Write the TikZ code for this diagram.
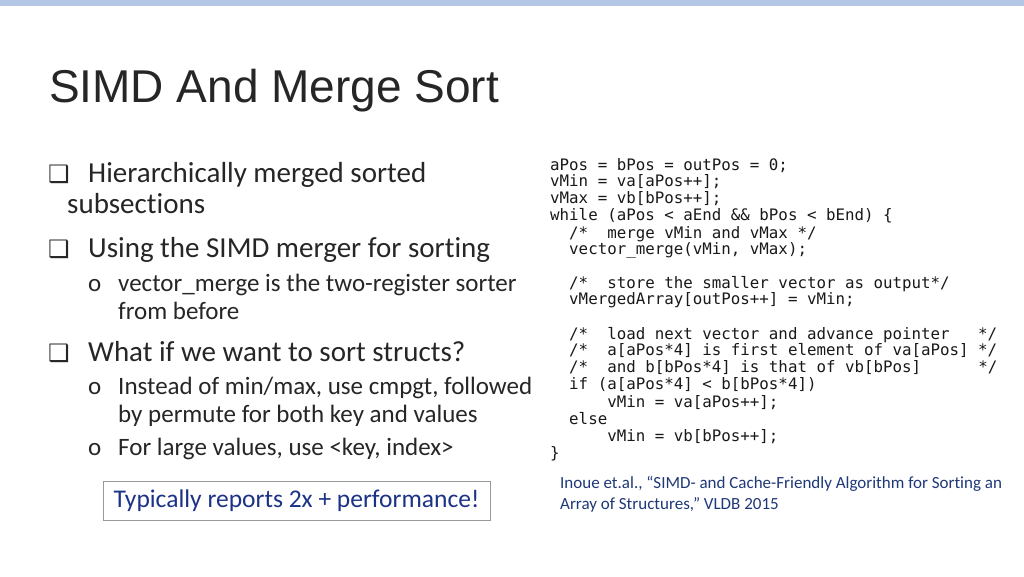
\documentclass[tikz,border=0pt]{standalone}
\usepackage{fontspec}
\setmainfont{Carlito}[Ligatures=NoCommon]
\newfontfamily\titlefont{Liberation Sans}
\newfontfamily\codefont{DejaVu Sans Mono}
\newfontfamily\symfont{DejaVu Sans}
\definecolor{txt}{RGB}{38,38,38}
\definecolor{bar}{RGB}{180,199,231}
\definecolor{cite}{RGB}{31,56,120}
\definecolor{code}{RGB}{25,25,25}
\begin{document}
\begin{tikzpicture}[x=1pt,y=-1pt,
  main/.style={anchor=base west,inner sep=0pt,text=txt,font=\fontsize{29}{33}\selectfont},
  sub/.style={anchor=base west,inner sep=0pt,text=txt,font=\fontsize{25}{29}\selectfont},
  cl/.style={anchor=base west,inner sep=0pt,text=code,font=\codefont\fontsize{15.8}{17}\selectfont}]
\useasboundingbox (0,0) rectangle (1024,576);
\fill[white] (0,0) rectangle (1024,576);
\fill[bar] (0,0) rectangle (1024,6);
\node[anchor=base west,inner sep=0pt,text=txt,font=\titlefont\fontsize{46}{50}\selectfont] (title) at (49,102) {SIMD And Merge Sort};
% bullets
\node[main] (b1s) at (48,182) {\symfont\fontsize{24}{26}\selectfont ❑};
\node[main] (b1) at (88,182) {Hierarchically merged sorted};
\node[main] (b1b) at (67,213) {subsections};
\node[main] (b2s) at (48,257) {\symfont\fontsize{24}{26}\selectfont ❑};
\node[main] (b2) at (88,257) {Using the SIMD merger for sorting};
\node[sub] (s1o) at (88,291) {o};
\node[sub] (s1) at (118,291) {vector\_merge is the two-register sorter};
\node[sub] (s1b) at (118,319) {from before};
\node[main] (b3s) at (48,361) {\symfont\fontsize{24}{26}\selectfont ❑};
\node[main] (b3) at (88,361) {What if we want to sort structs?};
\node[sub] (s2o) at (88,394) {o};
\node[sub] (s2) at (118,394) {Instead of min/max, use cmpgt, followed};
\node[sub] (s2b) at (118,422) {by permute for both key and values};
\node[sub] (s3o) at (88,455) {o};
\node[sub] (s3) at (118,455) {For large values, use <key, index>};
\node[draw=gray!80,line width=0.8pt,minimum width=387,minimum height=39,inner sep=0pt,text=cite!90!blue,font=\fontsize{25.5}{28}\selectfont] (box) at (296.5,500.5) {Typically reports 2x + performance!};
\node[anchor=north west,inner sep=0pt,text=cite,font=\fontsize{17}{21}\selectfont,align=left] (ref) at (560,476) {Inoue et.al., “SIMD- and Cache-Friendly Algorithm for Sorting an\\Array of Structures,” VLDB 2015};
% code
\node[cl] (c1) at (550,170) {aPos = bPos = outPos = 0;};
\node[cl] (c2) at (550,186) {vMin = va[aPos++];};
\node[cl] (c3) at (550,203) {vMax = vb[bPos++];};
\node[cl] (c4) at (550,220) {while (aPos < aEnd \&\& bPos < bEnd) \{};
\node[cl] (c5) at (550,238) {\ \ /*\ \ merge vMin and vMax */};
\node[cl] (c6) at (550,254) {\ \ vector\_merge(vMin, vMax);};
\node[cl] (c7) at (550,288) {\ \ /*\ \ store the smaller vector as output*/};
\node[cl] (c8) at (550,304) {\ \ vMergedArray[outPos++] = vMin;};
\node[cl] (c9) at (550,339) {\ \ /*\ \ load next vector and advance pointer\ \ \ */};
\node[cl] (c10) at (550,355) {\ \ /*\ \ a[aPos*4] is first element of va[aPos] */};
\node[cl] (c11) at (550,372) {\ \ /*\ \ and b[bPos*4] is that of vb[bPos]\ \ \ \ \ \ */};
\node[cl] (c12) at (550,389) {\ \ if (a[aPos*4] < b[bPos*4])};
\node[cl] (c13) at (550,407) {\ \ \ \ \ \ vMin = va[aPos++];};
\node[cl] (c14) at (550,424) {\ \ else};
\node[cl] (c15) at (550,441) {\ \ \ \ \ \ vMin = vb[bPos++];};
\node[cl] (c16) at (550,458) {\}};
\end{tikzpicture}
\end{document}
